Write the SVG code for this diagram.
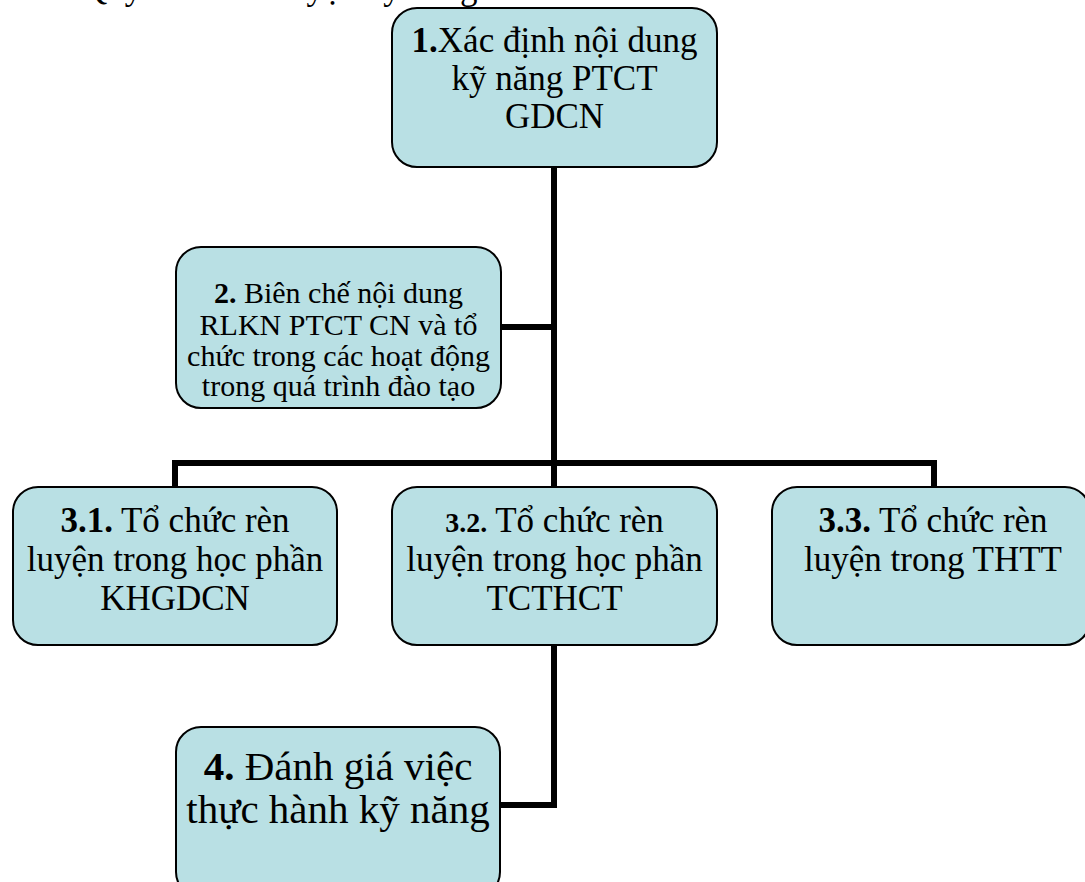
<svg xmlns="http://www.w3.org/2000/svg" width="1085" height="882" viewBox="0 0 1085 882">
<style>
.box{fill:#b9e0e4;stroke:#000;stroke-width:2}
.t{font-family:"Liberation Serif","Times New Roman",serif;fill:#000;text-anchor:middle}
.b{font-weight:bold}
.c{fill:none;stroke:#000;stroke-width:6;stroke-linecap:butt;stroke-linejoin:miter}
</style>
<rect width="1085" height="882" fill="#fff"/>
<text class="t" x="82" y="-1.5" font-size="35" style="text-anchor:start">Quy trình rèn luyện kỹ năng</text>
<g id="connectors">
<path class="c" d="M554,167 V487"/>
<path class="c" d="M500,327 H554"/>
<path class="c" d="M175,487 V463 H934 V487"/>
<path class="c" d="M554,645 V805 H500"/>
</g>
<g id="n1">
<rect class="box" x="392" y="8" width="325" height="159" rx="25"/>
<text class="t" font-size="35"><tspan x="554.5" y="52"><tspan class="b">1.</tspan>Xác định nội dung</tspan><tspan x="554.5" y="90">kỹ năng PTCT</tspan><tspan x="554.5" y="128">GDCN</tspan></text>
</g>
<g id="n2">
<rect class="box" x="176" y="247" width="325" height="161" rx="25"/>
<text class="t" font-size="30"><tspan x="338.5" y="303"><tspan class="b">2.</tspan> Biên chế nội dung</tspan><tspan x="338.5" y="335">RLKN PTCT CN và tổ</tspan><tspan x="338.5" y="366">chức trong các hoạt động</tspan><tspan x="338.5" y="396">trong quá trình đào tạo</tspan></text>
</g>
<g id="n31">
<rect class="box" x="13" y="487" width="324" height="158" rx="25"/>
<text class="t" font-size="35"><tspan x="175" y="532"><tspan class="b">3.1.</tspan> Tổ chức rèn</tspan><tspan x="175" y="571">luyện trong học phần</tspan><tspan x="175" y="610">KHGDCN</tspan></text>
</g>
<g id="n32">
<rect class="box" x="392" y="487" width="325" height="158" rx="25"/>
<text class="t" font-size="35"><tspan x="554.5" y="532"><tspan class="b" font-size="28">3.2.</tspan> Tổ chức rèn</tspan><tspan x="554.5" y="571">luyện trong học phần</tspan><tspan x="554.5" y="610">TCTHCT</tspan></text>
</g>
<g id="n33">
<rect class="box" x="772" y="487" width="318" height="158" rx="25"/>
<text class="t" font-size="35"><tspan x="933" y="532"><tspan class="b">3.3.</tspan> Tổ chức rèn</tspan><tspan x="933" y="571">luyện trong THTT</tspan></text>
</g>
<g id="n4">
<rect class="box" x="176" y="727" width="324" height="170" rx="25"/>
<text class="t" font-size="41"><tspan x="338" y="780"><tspan class="b">4.</tspan> Đánh giá việc</tspan><tspan x="338" y="823">thực hành kỹ năng</tspan></text>
</g>
</svg>
